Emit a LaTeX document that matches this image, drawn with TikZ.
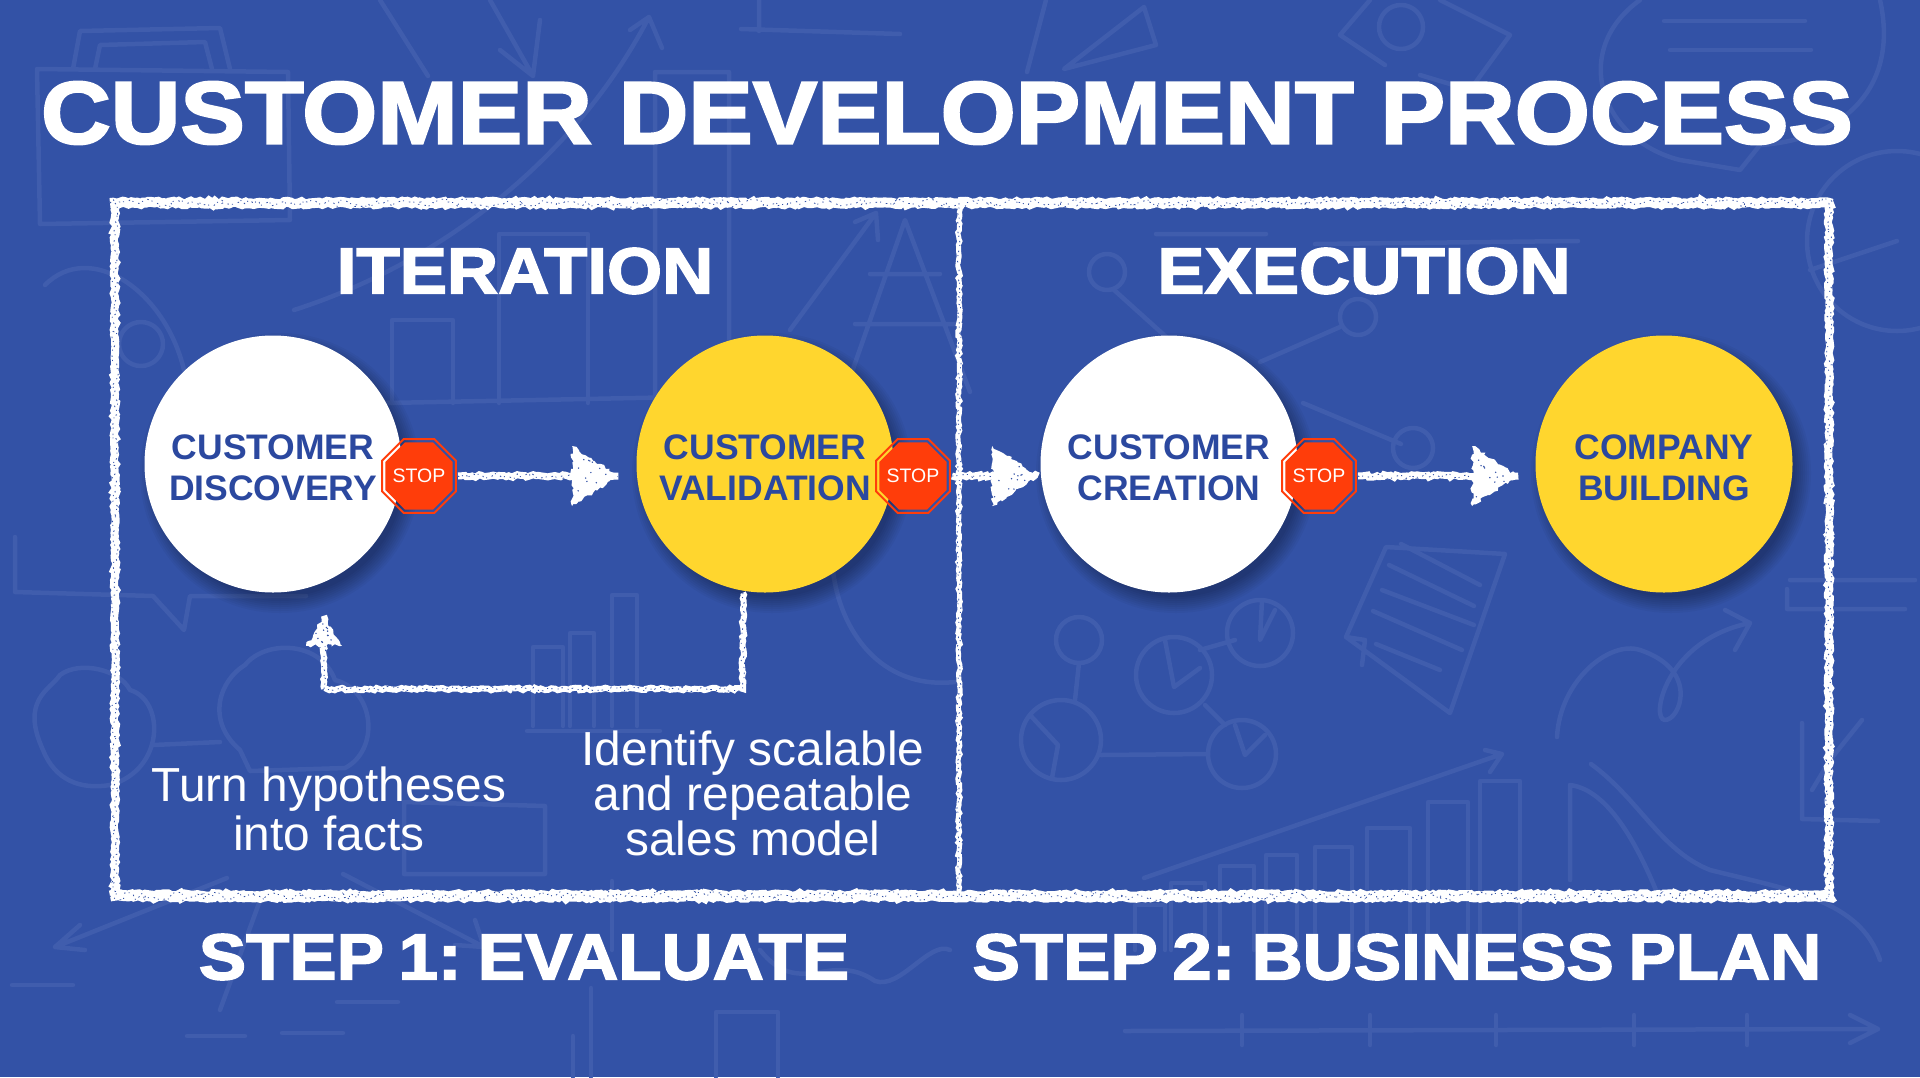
\documentclass[tikz,border=0pt]{standalone}
\usepackage{fontspec}
\usepackage{tikz}
\usetikzlibrary{shapes.geometric,decorations.pathmorphing,decorations.markings,calc}
\setmainfont{Liberation Sans}
\newfontfamily\heavyfont{Liberation Sans}[UprightFont={* Bold},FakeBold=2.5,FakeStretch=1.09]
\definecolor{bgblue}{HTML}{3352A6}
\definecolor{doodleblue}{HTML}{405DAD}
\definecolor{inkblue}{HTML}{2B489F}
\definecolor{signred}{HTML}{FF3D0A}
\definecolor{sunyellow}{HTML}{FFD62E}
\tikzset{
	doodle/.style={draw=doodleblue,line width=4.5pt,line cap=round,line join=round},
	headline/.style={text=white,inner sep=0pt,font=\heavyfont\fontsize{#1}{#1}\selectfont},
	stage/.style={circle,fill=#1,minimum size=257pt,inner sep=0pt,align=center,text=inkblue,
		font=\bfseries\fontsize{35.5}{41}\selectfont,text height=73.6pt},
	signring/.style={regular polygon,regular polygon sides=8,
		draw=signred,line width=2pt,minimum size=80pt,inner sep=0pt,outer sep=0pt},
	signface/.style={regular polygon,regular polygon sides=8,
		fill=signred,minimum size=73pt,inner sep=0pt,outer sep=0pt,
		label={[text=white,inner sep=0pt,font=\fontsize{19.5}{20}\selectfont]center:STOP}},
	note/.style={text=white,align=center,inner sep=0pt},
	chalk/.style={postaction={draw=white,line width=#1,line cap=butt,decorate,
		decoration={random steps,segment length=3pt,amplitude=1.3pt}},
		postaction={draw=bgblue,line width=.8pt,dash pattern=on 1.5pt off 3pt on 1pt off 5pt,decorate,
		decoration={random steps,segment length=4pt,amplitude=.42*#1}}},
	chalkhead/.style n args={2}{postaction={decorate,decoration={markings,mark=at position .999 with {
		\fill[white,decorate,decoration={random steps,segment length=3pt,amplitude=1.8pt}]
			(-#1,#2) -- (0,0) -- (-#1,-#2) -- cycle;
		\foreach \k in {1,...,12}{
			\pgfmathsetmacro{\ta}{.25+.7*rnd}
			\pgfmathsetmacro{\tb}{\ta*.85*(2*rnd-1)}
			\fill[bgblue] ({-#1*\ta},{#2*\tb}) circle (.8pt);
		}
	}}}},
}
\pgfmathsetseed{7}
\begin{document}
\begin{tikzpicture}[x=1pt,y=-1pt]
	\useasboundingbox (0,0) rectangle (1920,1077);
	\fill[bgblue] (0,0) rectangle (1920,1077);
	% faint sketches behind everything
	\draw[doodle] (37,69) -- (288,72) -- (290,220) -- (40,224) -- cycle;
	\draw[doodle] (73,69) -- (80,31) -- (220,28) -- (230,69) (95,69) -- (100,45) -- (205,42) -- (212,69);
	\draw[doodle] (380,0) -- (428,76) (490,0) -- (533,76) (500,50) -- (533,76) -- (540,20);
	\draw[doodle] (294,310) .. controls (450,260) and (580,150) .. (649,17) (630,30) -- (649,17) -- (662,48);
	\draw[doodle] (392,403) -- (392,320) -- (453,320) -- (453,403) (499,403) -- (499,234) -- (588,234) -- (588,403);
	\draw[doodle] (655,403) -- (655,72) -- (729,72) -- (729,403) (386,403) -- (735,396);
	\draw[doodle] (759,0) -- (759,31) (741,29) -- (900,34);
	\draw[doodle] (45,285) .. controls (90,240) and (165,290) .. (184,370) (141,344) circle (22pt);
	\draw[doodle] (790,330) -- (876,213) (855,222) -- (876,213) -- (878,240);
	\draw[doodle] (845,392) -- (905,220) -- (970,392) (870,274) -- (940,274) (855,324) -- (960,324);
	\draw[doodle] (1064,69) -- (1144,7) -- (1156,45) -- cycle (1027,72) -- (1046,0);
	\draw[doodle] (1385,65) -- (1340,35) -- (1370,0) (1440,0) -- (1510,35) -- (1470,90) -- (1420,75);
	\draw[doodle] (1401,27) circle (22pt);
	\draw[doodle] (1640,0) .. controls (1570,50) and (1600,140) .. (1680,160) -- (1740,170) -- (1760,145)
		.. controls (1840,140) and (1900,90) .. (1880,0);
	\draw[doodle] (1664,21) -- (1805,21) (1670,50) -- (1811,50);
	\draw[doodle] (1107,272) circle (18pt) (1358,317) circle (18pt);
	\draw[doodle] (1260,362) -- (1340,327) (1113,289) -- (1174,344);
	\draw[doodle] (1156,234) -- (1266,234) (1315,244) -- (1578,241);
	\draw[doodle] (1413,448) circle (20pt) (1303,403) -- (1401,444);
	\draw[doodle] (1897,241) circle (90pt) (1897,241) -- (1810,270);
	\draw[doodle] (15,537) -- (15,592) -- (153,596) -- (184,630) -- (190,596) -- (306,596);
	\draw[doodle] (43,750) .. controls (20,700) and (50,690) .. (60,675) .. controls (80,660) and (120,670) .. (130,690)
		.. controls (165,700) and (165,770) .. (110,785) .. controls (80,790) and (55,780) .. (43,750);
	\draw[doodle] (240,750) .. controls (205,720) and (220,680) .. (245,665) .. controls (265,640) and (320,640) .. (335,680)
		.. controls (375,690) and (380,750) .. (345,768) -- (250,771) -- cycle (153,745) -- (220,742);
	\draw[doodle] (404,802) -- (545,806) -- (545,874) -- (404,874) -- cycle;
	\draw[doodle] (533,726) -- (533,647) -- (563,647) -- (563,726) (570,726) -- (570,633) -- (594,633) -- (594,726);
	\draw[doodle] (612,726) -- (612,595) -- (637,595) -- (637,726) (527,731) -- (660,731);
	\draw[doodle] (227,878) -- (55,947) (80,925) -- (55,947) -- (85,950);
	\draw[doodle] (262,895) -- (220,1010) (343,874) -- (484,947) (455,945) -- (484,947) -- (475,920);
	\draw[doodle] (12,985) -- (73,985) (337,1002) -- (398,1002) (187,1036) -- (245,1036) (282,1033) -- (343,1033);
	\draw[doodle] (716,1077) -- (716,1012) -- (778,1012) -- (778,1077);
	\draw[doodle] (573,1077) -- (573,1036) (591,1077) -- (591,988) (612,950) -- (612,881);
	\draw[doodle] (833,571) .. controls (840,630) and (880,690) .. (955,682);
	\draw[doodle] (760,950) .. controls (800,1000) and (830,950) .. (875,981) .. controls (900,990) and (930,940) .. (950,950);
	\draw[doodle] (1125,1031) -- (1878,1029) (1850,1015) -- (1878,1029) -- (1850,1043);
	\foreach \tick in {1242,1370,1496,1634,1747}{
		\draw[doodle] (\tick,1015) -- (\tick,1045);
	}
	\foreach \barleft/\barright/\bartop in {1135/1165/905,1171/1205/883,1220/1254/866,1266/1297/855,1315/1352/847,1367/1410/828,1428/1468/802,1480/1520/781}{
		\draw[doodle] (\barleft,950) -- (\barleft,\bartop) -- (\barright,\bartop) -- (\barright,950);
	}
	\draw[doodle] (1144,878) -- (1502,754) (1485,750) -- (1502,754) -- (1490,772);
	\draw[doodle] (1061,740) circle (40pt) (1174,675) circle (38pt) (1242,754) circle (34pt) (1260,633) circle (33pt) (1079,640) circle (23pt);
	\draw[doodle] (1079,663) -- (1075,700) (1101,755) -- (1208,754) (1205,705) -- (1225,725) (1200,650) -- (1235,640);
	\draw[doodle] (1030,715) -- (1058,745) -- (1052,778) (1165,640) -- (1174,687) -- (1200,668);
	\draw[doodle] (1235,725) -- (1245,755) -- (1265,735) (1262,600) -- (1260,640) -- (1275,610);
	\draw[doodle] (1386,547) -- (1505,554) -- (1450,713) -- (1346,637) -- cycle (1346,637) -- (1365,640) -- (1362,665);
	\foreach \rowxa/\rowya/\rowxb/\rowyb in {1401/544/1480/585,1389/565/1474/606,1382/590/1474/625,1373/611/1462/650,1376/644/1440/670}{
		\draw[doodle] (\rowxa,\rowya) -- (\rowxb,\rowyb);
	}
	\draw[doodle] (1557,737) .. controls (1560,680) and (1610,640) .. (1640,650) .. controls (1700,670) and (1680,720) .. (1665,720)
		.. controls (1650,720) and (1665,640) .. (1750,623) (1725,610) -- (1750,623) -- (1735,650);
	\draw[doodle] (1591,764) .. controls (1640,800) and (1660,850) .. (1710,870) .. controls (1790,890) and (1860,900) .. (1880,960);
	\draw[doodle] (1570,880) -- (1570,785) .. controls (1610,790) and (1640,850) .. (1660,900);
	\draw[doodle] (1787,589) -- (1787,609) -- (1905,609) (1790,580) -- (1915,580) (1802,723) -- (1802,819) -- (1878,821);
	\draw[doodle] (1812,790) -- (1830,760) -- (1862,720);
	% chalk frame
	\coordinate (frameTL) at (115,203);
	\coordinate (frameTR) at (1829,203);
	\coordinate (frameBL) at (115,896);
	\coordinate (frameBR) at (1829,896);
	\coordinate (splitT) at (959,203);
	\coordinate (splitB) at (959,896);
	\path[chalk=10pt] ([xshift=-5pt]frameTL) -- ([xshift=5pt]frameTR);
	\path[chalk=11pt] ([xshift=-5pt]frameBL) -- ([xshift=5pt]frameBR);
	\path[chalk=8pt] (frameTL) -- (frameBL);
	\path[chalk=8pt] (frameTR) -- (frameBR);
	\path[chalk=5pt] (splitT) -- (splitB);
	% soft shadows under the circles
	\foreach \cx in {273,765,1169,1664}{
		\foreach \r in {124,126,...,140}{
			\fill[black,opacity=.035] ({\cx+7},473) circle (\r pt);
		}
	}
	\node[headline=88.6] (title) at (947,113) {CUSTOMER DEVELOPMENT PROCESS};
	\node[headline=65] (iteration) at (525,271) {ITERATION};
	\node[headline=65] (execution) at (1364,271) {EXECUTION};
	\node[headline=65] (stepone) at (524,957) {STEP\hspace{-5pt} 1:\hspace{-10pt} EVALUATE};
	\node[headline=65] (steptwo) at (1397,957) {STEP\hspace{-5pt} 2:\hspace{-10pt} BUSINESS\hspace{-5pt} PLAN};
	\node[stage=white] (discovery) at (273,464) {CUSTOMER\\DISCOVERY};
	\node[stage=sunyellow] (validation) at (765,464) {CUSTOMER\\VALIDATION};
	\node[stage=white] (creation) at (1169,464) {CUSTOMER\\CREATION};
	\node[stage=sunyellow] (building) at (1664,464) {COMPANY\\BUILDING};
	\foreach \signname/\signx in {stopA/419,stopB/913,stopC/1319}{
		\node[signring] (ring\signname) at (\signx,476) {};
		\node[signface] (\signname) at (\signx,476) {};
	}
	% connectors
	\path[chalk=7pt,chalkhead={46}{30}] ([xshift=2pt]ringstopA.east) -- ([xshift=-18pt]validation.west |- ringstopA.east);
	\path[chalk=7pt,chalkhead={46}{30}] ([xshift=2pt]ringstopB.east) -- ([xshift=-2pt]creation.west |- ringstopB.east);
	\path[chalk=7pt,chalkhead={46}{30}] ([xshift=2pt]ringstopC.east) -- ([xshift=-17pt]building.west |- ringstopC.east);
	\coordinate (backR) at (743,689);
	\coordinate (backL) at (324,689);
	\path[chalk=6pt] ([xshift=-22pt]validation.south) -- (backR) -- (backL);
	\path[chalk=6pt,chalkhead={30}{18}] (backL) -- ([xshift=51pt,yshift=-23pt]discovery.south);
	\node[note,font=\fontsize{47.8}{49}\selectfont] (facts) at (329,809) {Turn hypotheses\\into facts};
	\node[note,font=\fontsize{47.8}{45}\selectfont] (model) at (753,793) {Identify scalable\\and repeatable\\sales model};
\end{tikzpicture}
\end{document}
